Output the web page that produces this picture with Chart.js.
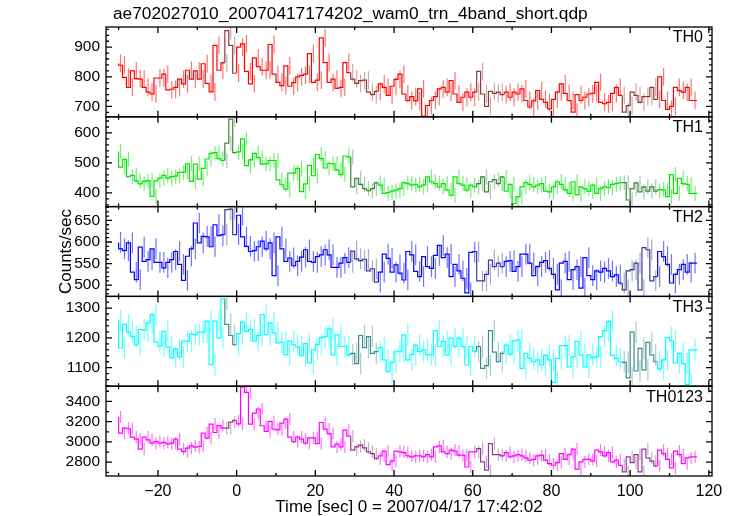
<!DOCTYPE html>
<html>
<head>
<meta charset="utf-8">
<script src="https://cdn.jsdelivr.net/npm/chart.js@4"></script>
<style>
  html, body { margin: 0; padding: 0; background: #fff; }
</style>
</head>
<body>
<canvas id="lc" width="737" height="516"></canvas>
<script>
// ============================== DATA

const plotTitle = 'ae702027010_20070417174202_wam0_trn_4band_short.qdp';
const xLabel = 'Time [sec] 0 = 2007/04/17 17:42:02';
const yLabel = 'Counts/sec';
const bandNames = ['TH0', 'TH1', 'TH2', 'TH3', 'TH0123'];

// 1 s bins, first bin starts at -30 s
const binStart = -30;
const binWidth = 1;

const th0 = [
  845, 839, 798, 764, 820, 794, 792, 764, 748, 742, 796, 796, 809, 756, 758, 764, 792, 776, 822, 792,
  820, 792, 844, 778, 749, 906, 822, 847, 956, 906, 812, 900, 911, 818, 776, 864, 834, 822, 822, 909,
  809, 781, 770, 837, 768, 780, 800, 805, 809, 878, 781, 789, 931, 848, 781, 792, 761, 764, 848, 814,
  792, 778, 787, 789, 748, 740, 751, 776, 764, 737, 768, 791, 809, 742, 720, 733, 719, 759, 667, 703,
  720, 733, 759, 764, 748, 787, 742, 714, 731, 748, 731, 748, 818, 742, 700, 751, 744, 748, 740, 748,
  731, 748, 742, 759, 720, 698, 719, 753, 724, 714, 692, 724, 748, 776, 744, 720, 681, 740, 720, 731,
  742, 744, 781, 714, 709, 714, 744, 764, 737, 681, 703, 748, 737, 714, 733, 733, 764, 724, 800, 720,
  690, 700, 764, 753, 748, 764, 720
];
const th1 = [
  538, 486, 512, 454, 458, 440, 430, 438, 441, 388, 440, 449, 458, 449, 454, 456, 468, 469, 497, 438,
  496, 446, 482, 513, 532, 534, 514, 508, 566, 646, 534, 537, 580, 491, 510, 532, 518, 496, 497, 508,
  508, 443, 427, 412, 466, 466, 482, 404, 430, 492, 457, 528, 514, 483, 498, 497, 476, 461, 523, 520,
  420, 448, 428, 414, 407, 414, 433, 426, 398, 401, 406, 409, 414, 434, 431, 426, 428, 420, 426, 453,
  437, 431, 420, 431, 409, 392, 453, 431, 426, 409, 426, 420, 431, 453, 403, 437, 444, 431, 453, 406,
  428, 364, 387, 420, 434, 428, 420, 426, 431, 406, 403, 420, 437, 428, 411, 398, 437, 394, 420, 414,
  406, 426, 398, 414, 420, 417, 428, 431, 434, 434, 376, 414, 433, 403, 420, 406, 420, 406, 411, 409,
  387, 461, 398, 448, 431, 428, 398
];
const th2 = [
  599, 584, 580, 598, 530, 513, 588, 555, 559, 584, 553, 553, 540, 553, 559, 578, 548, 511, 567, 584,
  644, 598, 613, 612, 589, 640, 615, 617, 675, 676, 617, 662, 612, 590, 578, 580, 589, 602, 584, 598,
  522, 612, 584, 555, 563, 545, 555, 565, 582, 555, 553, 566, 570, 582, 570, 541, 541, 551, 564, 553,
  579, 561, 557, 560, 533, 538, 507, 530, 572, 562, 530, 547, 528, 512, 578, 570, 532, 520, 566, 543,
  539, 569, 592, 564, 572, 520, 548, 533, 516, 482, 576, 578, 510, 510, 525, 558, 543, 551, 543, 555,
  557, 532, 543, 572, 572, 551, 522, 543, 553, 557, 539, 525, 489, 551, 555, 513, 536, 543, 493, 564,
  522, 513, 533, 530, 539, 533, 520, 524, 505, 489, 533, 536, 551, 489, 587, 582, 510, 520, 578, 566,
  548, 505, 525, 536, 548, 530, 551
];
const th3 = [
  1259, 1166, 1245, 1220, 1205, 1177, 1228, 1225, 1250, 1278, 1186, 1172, 1222, 1170, 1133, 1163, 1136, 1189, 1189, 1213,
  1211, 1219, 1219, 1256, 1110, 1256, 1200, 1331, 1245, 1208, 1177, 1214, 1253, 1222, 1228, 1189, 1208, 1278, 1211, 1250,
  1217, 1183, 1185, 1144, 1189, 1177, 1170, 1140, 1181, 1116, 1160, 1178, 1201, 1204, 1230, 1143, 1210, 1171, 1171, 1143,
  1148, 1114, 1208, 1167, 1204, 1148, 1154, 1167, 1126, 1087, 1118, 1156, 1154, 1210, 1126, 1145, 1176, 1154, 1160, 1143,
  1143, 1224, 1171, 1188, 1143, 1199, 1171, 1199, 1171, 1109, 1171, 1154, 1171, 1098, 1107, 1224, 1152, 1120, 1148, 1176,
  1145, 1190, 1193, 1098, 1148, 1131, 1120, 1126, 1109, 1141, 1126, 1051, 1131, 1174, 1174, 1103, 1137, 1188, 1143, 1103,
  1143, 1134, 1137, 1204, 1224, 1255, 1141, 1131, 1120, 1118, 1066, 1219, 1089, 1165, 1093, 1185, 1143, 1120, 1096, 1126,
  1201, 1190, 1116, 1148, 1114, 1044, 1160
];
const th0123 = [
  3246, 3087, 3137, 3130, 3048, 3028, 2929, 3048, 3021, 2988, 3004, 2988, 2995, 2981, 2988, 3028, 2929, 2905, 2939, 2961,
  2949, 2955, 3087, 3038, 3176, 3093, 3162, 3137, 3137, 3196, 3212, 3179, 3540, 3489, 3176, 3285, 3325, 3160, 3103, 3202,
  3127, 3120, 3186, 3226, 3048, 3004, 3048, 3028, 2988, 3040, 3040, 2984, 3192, 3127, 3083, 2951, 2978, 2951, 3117, 3057,
  2919, 2951, 2968, 2942, 2902, 2885, 2836, 2862, 2909, 2776, 2810, 2909, 2902, 2895, 2862, 2852, 2862, 2862, 2852, 2875,
  2852, 2951, 2961, 2902, 2885, 2919, 2909, 2869, 2869, 2753, 2902, 2902, 2935, 2803, 2721, 2984, 2875, 2875, 2862, 2895,
  2852, 2862, 2875, 2862, 2842, 2820, 2829, 2862, 2869, 2820, 2786, 2770, 2796, 2885, 2829, 2875, 2929, 2731, 2803, 2829,
  2829, 2810, 2919, 2902, 2862, 2895, 2803, 2820, 2770, 2704, 2852, 2796, 2875, 2704, 2929, 2842, 2810, 2763, 2919, 2885,
  2829, 2744, 2909, 2875, 2786, 2842, 2852
];

// typical 1-sigma error of one bin, per band
const rateErrors = [30, 25, 24, 36, 60];

// time spans [start, end) drawn in the darker group colour
const darkSpans = [[-3, 0], [29, 36], [61, 68], [98, 107]];

// ============================== PANELS

const FONT = '"Liberation Sans", Arial, Helvetica, sans-serif';

const panels = [
  { id: 'yTH0',    values: th0,    err: rateErrors[0], color: '#ff0000', min: 665,  max: 968,  step: 100, minor: 20 },
  { id: 'yTH1',    values: th1,    err: rateErrors[1], color: '#00e600', min: 354,  max: 654,  step: 100, minor: 20 },
  { id: 'yTH2',    values: th2,    err: rateErrors[2], color: '#0000ff', min: 474,  max: 682,  step: 50,  minor: 10 },
  { id: 'yTH3',    values: th3,    err: rateErrors[3], color: '#00ffff', min: 1038, max: 1339, step: 100, minor: 20 },
  { id: 'yTH0123', values: th0123, err: rateErrors[4], color: '#ff00ff', min: 2664, max: 3550, step: 200, minor: 100 },
];

function rgb(hex) {
  const n = parseInt(hex.slice(1), 16);
  return [(n >> 16) & 255, (n >> 8) & 255, n & 255];
}

function withAlpha(hex, a) {
  const [r, g, b] = rgb(hex);
  return 'rgba(' + r + ',' + g + ',' + b + ',' + a + ')';
}

// mix a colour with dark grey
function dimmed(hex, a) {
  const [r, g, b] = rgb(hex);
  const m = c => Math.round(c * 0.35 + 60 * 0.65);
  return 'rgba(' + m(r) + ',' + m(g) + ',' + m(b) + ',' + a + ')';
}

function inDarkSpan(t) {
  return darkSpans.some(s => t >= s[0] && t < s[1]);
}

function stepTicks(min, max, step) {
  const out = [];
  for (let v = Math.ceil(min / step) * step; v <= max; v += step) out.push({ value: v });
  return out;
}

const tickLabel = v => String(v).replace('-', '\u2212');

const datasets = panels.map((p, k) => {
  const pts = p.values.map((v, i) => ({ x: binStart + i * binWidth, y: v }));
  // close the last bin
  pts.push({ x: binStart + p.values.length * binWidth, y: p.values[p.values.length - 1] });
  const dark = dimmed(p.color, 0.9);
  return {
    label: bandNames[k],
    data: pts,
    yAxisID: p.id,
    borderColor: p.color,
    borderWidth: 1.2,
    stepped: 'after',
    pointRadius: 0,
    fill: false,
    segment: {
      borderColor: c => inDarkSpan(c.p0.parsed.x) ? dark : undefined,
    },
  };
});

const scales = {
  x: {
    type: 'linear',
    position: 'bottom',
    min: -33.2,
    max: 120.8,
    grid: { display: false, drawTicks: false },
    border: { display: false },
    afterBuildTicks: s => { s.ticks = stepTicks(s.min, s.max, 20); },
    ticks: {
      padding: 6,
      maxRotation: 0,
      autoSkip: false,
      color: '#000',
      font: { family: FONT, size: 16 },
      callback: tickLabel,
    },
    afterFit: s => { s.height = 40; },
  },
};

panels.forEach((p, k) => {
  scales[p.id] = {
    type: 'linear',
    position: 'left',
    stack: 'lc',
    stackWeight: 1,
    weight: panels.length - k,
    min: p.min,
    max: p.max,
    grid: { display: false, drawTicks: false },
    border: { display: false },
    afterBuildTicks: s => { s.ticks = stepTicks(p.min, p.max, p.step); },
    ticks: {
      padding: 6,
      autoSkip: false,
      color: '#000',
      font: { family: FONT, size: 15.5 },
      callback: tickLabel,
    },
    afterFit: s => { s.width = 106; },
  };
});

// ============================== PLUGINS

const errorBars = {
  id: 'errorBars',
  beforeDatasetsDraw(chart) {
    const { ctx, chartArea } = chart;
    const xs = chart.scales.x;
    panels.forEach(p => {
      const ys = chart.scales[p.id];
      ctx.save();
      ctx.beginPath();
      ctx.rect(chartArea.left, ys.top, chartArea.right - chartArea.left, ys.bottom - ys.top);
      ctx.clip();
      ctx.lineWidth = 1.2;
      p.values.forEach((v, i) => {
        const t = binStart + i * binWidth;
        const cx = xs.getPixelForValue(t + 0.5 * binWidth);
        ctx.strokeStyle = inDarkSpan(t) ? dimmed(p.color, 0.4) : withAlpha(p.color, 0.55);
        ctx.beginPath();
        ctx.moveTo(cx, ys.getPixelForValue(v - p.err));
        ctx.lineTo(cx, ys.getPixelForValue(v + p.err));
        ctx.stroke();
      });
      ctx.restore();
    });
  },
};

const frames = {
  id: 'frames',
  afterDatasetsDraw(chart) {
    const { ctx, chartArea } = chart;
    const xs = chart.scales.x;
    const left = chartArea.left, right = chartArea.right;
    ctx.save();
    ctx.strokeStyle = '#000';
    ctx.lineWidth = 1.3;
    panels.forEach((p, k) => {
      const ys = chart.scales[p.id];
      const top = ys.top, bottom = ys.bottom;
      ctx.strokeRect(left, top, right - left, bottom - top);

      ctx.beginPath();
      for (let t = Math.ceil(xs.min / 10) * 10; t <= xs.max; t += 10) {
        const px = xs.getPixelForValue(t);
        const len = t % 20 === 0 ? 6 : 3;
        ctx.moveTo(px, top); ctx.lineTo(px, top + len);
        ctx.moveTo(px, bottom); ctx.lineTo(px, bottom - len);
      }
      for (let v = Math.ceil(p.min / p.minor) * p.minor; v <= p.max; v += p.minor) {
        const py = ys.getPixelForValue(v);
        const len = v % p.step === 0 ? 6 : 3;
        ctx.moveTo(left, py); ctx.lineTo(left + len, py);
        ctx.moveTo(right, py); ctx.lineTo(right - len, py);
      }
      ctx.stroke();

      ctx.fillStyle = '#000';
      ctx.font = '16px ' + FONT;
      ctx.textAlign = 'right';
      ctx.textBaseline = 'top';
      ctx.fillText(bandNames[k], right - 9, top + 3);
    });
    ctx.restore();
  },
  afterDraw(chart) {
    const { ctx, chartArea } = chart;
    ctx.save();
    ctx.fillStyle = '#000';
    ctx.textBaseline = 'middle';
    ctx.textAlign = 'left';
    ctx.font = '17.3px ' + FONT;
    ctx.fillText(plotTitle, 113, 14);

    ctx.font = '17px ' + FONT;
    ctx.textAlign = 'center';
    ctx.fillText(xLabel, (chartArea.left + chartArea.right) / 2, 507);

    ctx.translate(66, (chartArea.top + chartArea.bottom) / 2);
    ctx.rotate(-Math.PI / 2);
    ctx.fillText(yLabel, 0, 0);
    ctx.restore();
  },
};

// ============================== CHART

new Chart(document.getElementById('lc'), {
  type: 'line',
  data: { datasets },
  options: {
    responsive: false,
    animation: false,
    devicePixelRatio: 1,
    layout: { padding: { top: 27, right: 25, left: 0, bottom: 0 } },
    plugins: { legend: { display: false }, tooltip: { enabled: false } },
    scales,
  },
  plugins: [errorBars, frames],
});
</script>
</body>
</html>
